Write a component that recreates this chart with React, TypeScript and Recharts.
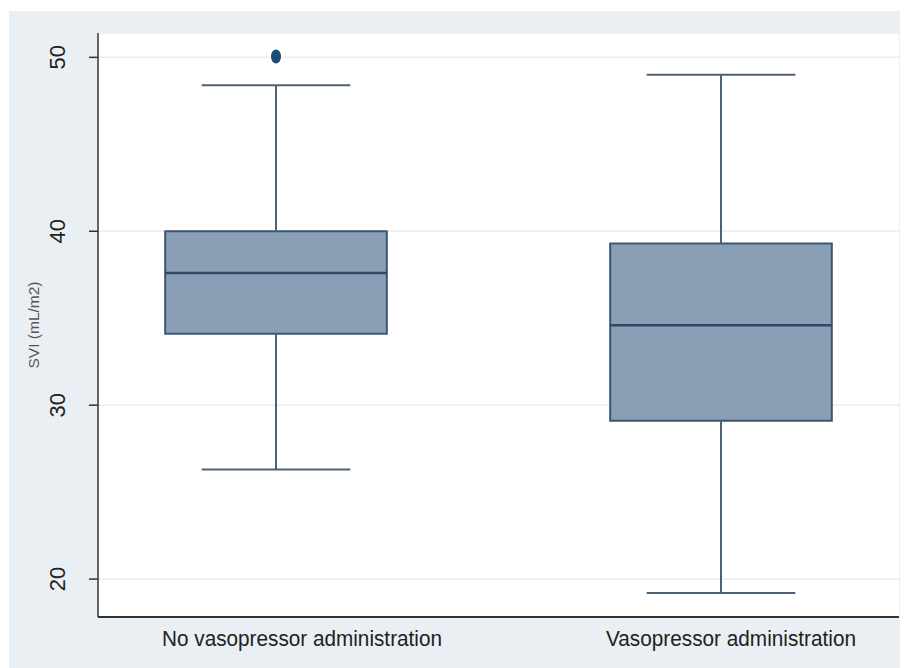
import React from "react";
import {
  ScatterChart,
  Scatter,
  XAxis,
  YAxis,
  CartesianGrid,
  ReferenceArea,
  ReferenceLine,
  Label,
} from "recharts";

const categories = ["No vasopressor administration", "Vasopressor administration"];
const positions = [1, 2];
const whiskerLow = [26.3, 19.2];
const q1 = [34.1, 29.1];
const median = [37.6, 34.6];
const q3 = [40.0, 39.3];
const whiskerHigh = [48.4, 49.0];
const outliers = [{ x: 1, y: 50.05 }];
const yTicks = [20, 30, 40, 50];

const BOX_HALF = 0.249;
const CAP_HALF = 0.167;
const LABEL_DX = [26, 10];
const LABEL_LEN = [280, 250];

const BOX_FILL = "#8a9fb6";
const BOX_STROKE = "#3c5671";
const WHISKER = "#4b6278";

const YTick = (props: any) => {
  const { x, y, payload } = props;
  const cx = x - 29;
  return (
    <text
      x={cx}
      y={y}
      transform={`rotate(-90, ${cx}, ${y})`}
      textAnchor="middle"
      dominantBaseline="central"
      fontSize={22}
      fill="#222"
      fontFamily="Liberation Sans, Arial, sans-serif"
    >
      {payload.value}
    </text>
  );
};

const XTick = (props: any) => {
  const { x, y, payload } = props;
  const i = positions.indexOf(payload.value);
  return (
    <text
      x={x + (LABEL_DX[i] ?? 0)}
      y={y + 13}
      textAnchor="middle"
      dominantBaseline="central"
      fontSize={22}
      fill="#222"
      textLength={LABEL_LEN[i]}
      lengthAdjust="spacingAndGlyphs"
      fontFamily="Liberation Sans, Arial, sans-serif"
    >
      {categories[i] ?? ""}
    </text>
  );
};

const OutlierShape = (props: any) => {
  const { cx, cy } = props;
  return <ellipse cx={cx} cy={cy} rx={5} ry={7} fill="#1c4a79" />;
};

export default function App() {
  return (
    <div
      style={{
        marginLeft: 1,
        marginTop: 3,
        width: 891,
        height: 657,
        background: "#e9eff3",
      }}
    >
      <ScatterChart
        width={891}
        height={657}
        margin={{ top: 22, right: 1, left: 0, bottom: 0 }}
      >
        <CartesianGrid
          horizontal={true}
          vertical={false}
          fill="#ffffff"
          stroke="#ececec"
          strokeWidth={1.5}
        />
        <XAxis
          type="number"
          dataKey="x"
          domain={[0.6, 2.4]}
          ticks={positions}
          allowDataOverflow
          height={51}
          tickLine={false}
          axisLine={{ stroke: "#333", strokeWidth: 2 }}
          tick={<XTick />}
          interval={0}
        />
        <YAxis
          type="number"
          dataKey="y"
          domain={[17.82, 51.4]}
          ticks={yTicks}
          allowDataOverflow
          width={89}
          tickSize={9}
          tickLine={{ stroke: "#333", strokeWidth: 1.5 }}
          axisLine={{ stroke: "#333", strokeWidth: 1.5 }}
          tick={<YTick />}
          interval={0}
        >
          <Label
            value="SVI (mL/m2)"
            angle={-90}
            position="insideLeft"
            offset={24}
            style={{
              fontSize: 15.5,
              fill: "#555",
              fontFamily: "Liberation Sans, Arial, sans-serif",
              textAnchor: "middle",
            }}
          />
        </YAxis>
        {positions.map((p, i) => (
          <ReferenceLine
            key={`wu${i}`}
            segment={[
              { x: p, y: q3[i] },
              { x: p, y: whiskerHigh[i] },
            ]}
            stroke={WHISKER}
            strokeWidth={2}
          />
        ))}
        {positions.map((p, i) => (
          <ReferenceLine
            key={`wl${i}`}
            segment={[
              { x: p, y: whiskerLow[i] },
              { x: p, y: q1[i] },
            ]}
            stroke={WHISKER}
            strokeWidth={2}
          />
        ))}
        {positions.map((p, i) => (
          <ReferenceLine
            key={`cu${i}`}
            segment={[
              { x: p - CAP_HALF, y: whiskerHigh[i] },
              { x: p + CAP_HALF, y: whiskerHigh[i] },
            ]}
            stroke={WHISKER}
            strokeWidth={2}
          />
        ))}
        {positions.map((p, i) => (
          <ReferenceLine
            key={`cl${i}`}
            segment={[
              { x: p - CAP_HALF, y: whiskerLow[i] },
              { x: p + CAP_HALF, y: whiskerLow[i] },
            ]}
            stroke={WHISKER}
            strokeWidth={2}
          />
        ))}
        {positions.map((p, i) => (
          <ReferenceArea
            key={`b${i}`}
            x1={p - BOX_HALF}
            x2={p + BOX_HALF}
            y1={q1[i]}
            y2={q3[i]}
            fill={BOX_FILL}
            fillOpacity={1}
            stroke={BOX_STROKE}
            strokeWidth={2}
          />
        ))}
        {positions.map((p, i) => (
          <ReferenceLine
            key={`m${i}`}
            segment={[
              { x: p - BOX_HALF, y: median[i] },
              { x: p + BOX_HALF, y: median[i] },
            ]}
            stroke="#2e4963"
            strokeWidth={2.5}
          />
        ))}
        <Scatter
          data={outliers}
          dataKey="y"
          shape={<OutlierShape />}
          isAnimationActive={false}
        />
      </ScatterChart>
    </div>
  );
}
